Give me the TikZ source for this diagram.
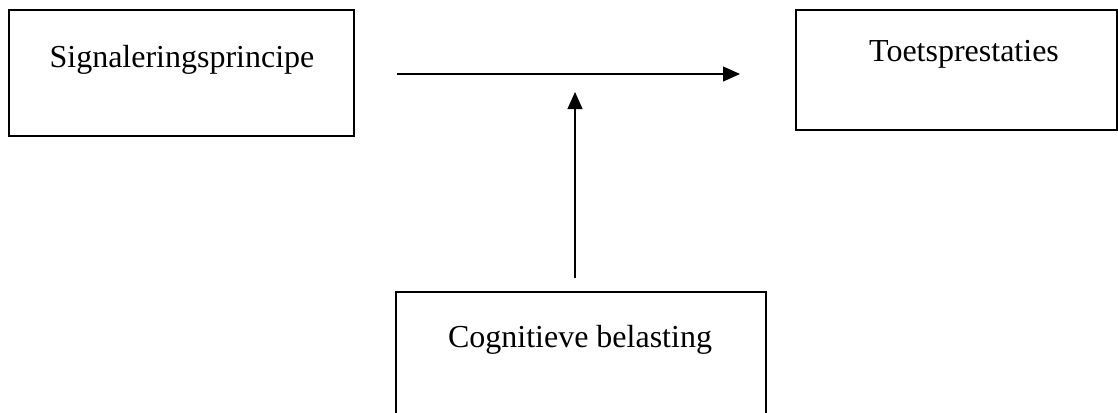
\documentclass[tikz,border=0pt]{standalone}
\usepackage{fontspec}
\setmainfont{Liberation Serif}
\usetikzlibrary{arrows.meta}
\begin{document}
\begin{tikzpicture}[x=1pt,y=-1pt,
  box/.style={draw=black,line width=2.4pt,minimum width=#1,inner sep=0pt},
  lbl/.style={anchor=base,font=\fontsize{32}{38}\selectfont,inner sep=0pt},
  arr/.style={line width=1.1pt,-{Triangle[length=17pt,width=15pt]}}]
\useasboundingbox (0,0) rectangle (1118,412);
\clip (0,0) rectangle (1118,412);
\node[box=345pt,minimum height=126pt] (b1) at (181.5,73) {};
\node[box=321pt,minimum height=120pt] (b2) at (956.5,70) {};
\node[box=370pt,minimum height=128pt] (b3) at (581,356) {};
\node[lbl] (t1) at (182,67) {Signaleringsprincipe};
\node[lbl] (t2) at (964,62) {Toetsprestaties};
\node[lbl] (t3) at (580,347) {Cognitieve belasting};
\coordinate (h1) at (397,74);
\coordinate (h2) at (740,74);
\coordinate (v1) at (575,278);
\coordinate (v2) at (575,92);
\draw[arr] (h1) -- (h2);
\draw[arr] (v1) -- (v2);
\end{tikzpicture}
\end{document}
